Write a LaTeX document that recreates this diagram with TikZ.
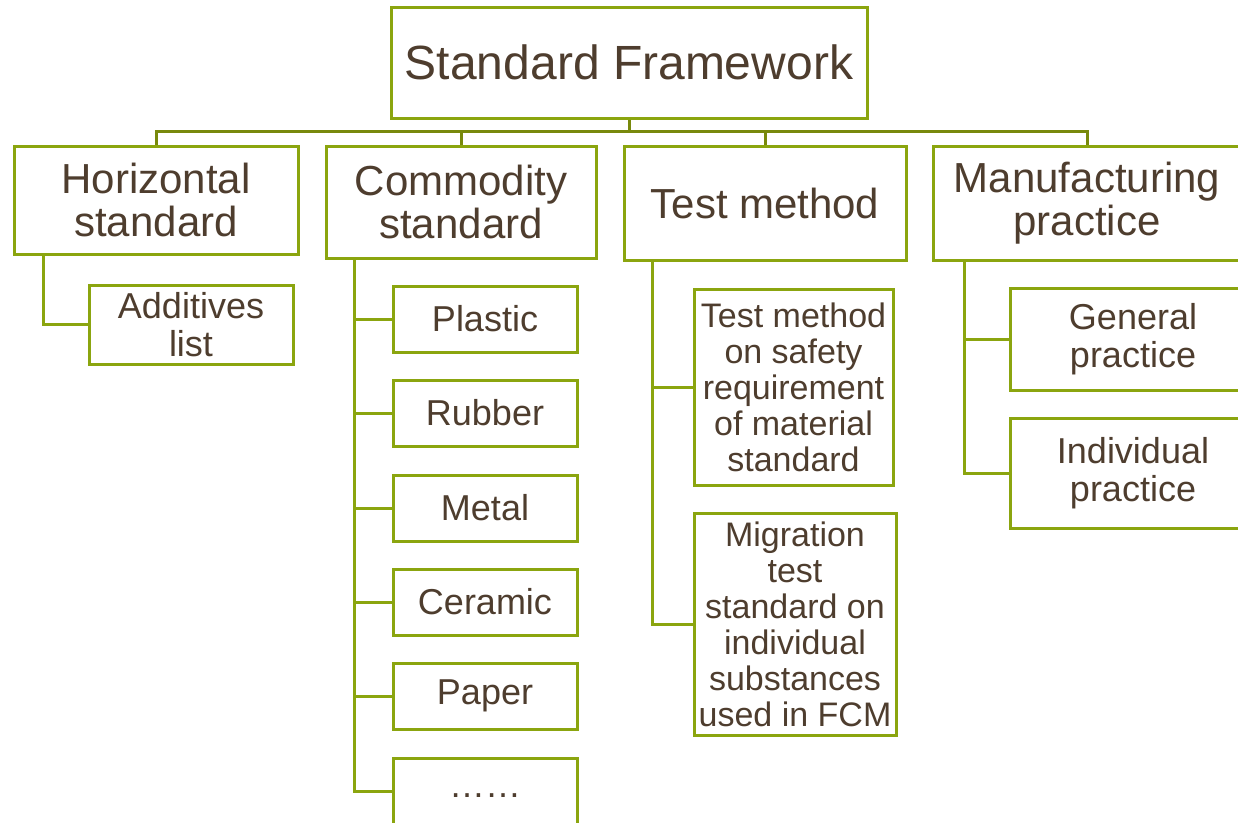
\documentclass[tikz,border=0pt]{standalone}
\usepackage{fontspec}
\setmainfont{Liberation Sans}
\definecolor{boxgreen}{HTML}{8BA50F}
\definecolor{busgreen}{HTML}{78890C}
\definecolor{txt}{HTML}{4E3D2E}
\begin{document}
\begin{tikzpicture}[x=1pt,y=-1pt,
  box/.style={draw=boxgreen, line width=3pt, fill=white, inner sep=0pt, align=center, text=txt},
  big/.style={font=\fontsize{48}{50}\selectfont},
  mid/.style={font=\fontsize{42}{43}\selectfont},
  sml/.style={font=\fontsize{36}{38}\selectfont},
  tiny/.style={font=\fontsize{34}{36}\selectfont},
  busline/.style={draw=busgreen, line width=3pt},
  link/.style={draw=boxgreen, line width=3pt}]
\clip (0,0) rectangle (1238,822);
\fill[white] (0,0) rectangle (1238,822);
\coordinate (bus) at (629,131);
\coordinate (hsp) at (43,254);
\coordinate (csp) at (354,258);
\coordinate (tsp) at (652,260);
\coordinate (msp) at (964,260);
% nodes
\node[box,big,minimum width=476pt,minimum height=111pt] (root) at (629,62.5) {Standard Framework};
\node[box,mid,minimum width=284pt,minimum height=108pt] (hs) at (156,200) {Horizontal\\standard};
\node[box,mid,minimum width=270pt,minimum height=112pt] (cs) at (461,202) {Commodity\\standard};
\node[box,mid,minimum width=282pt,minimum height=114pt] (tm) at (765,203) {Test method};
\node[box,mid,minimum width=308pt,minimum height=114pt] (ms) at (1087,203) {Manufacturing\\practice};
\node[box,sml,minimum width=204pt,minimum height=79pt] (add) at (191,324.5) {Additives\\list};
\node[box,sml,minimum width=184pt,minimum height=66pt] (c1) at (485,319) {Plastic};
\node[box,sml,minimum width=184pt,minimum height=66pt] (c2) at (485,413) {Rubber};
\node[box,sml,minimum width=184pt,minimum height=66pt] (c3) at (485,508) {Metal};
\node[box,sml,minimum width=184pt,minimum height=66pt] (c4) at (485,602) {Ceramic};
\node[box,sml,minimum width=184pt,minimum height=66pt] (c5) at (485,696) {Paper};
\node[box,sml,minimum width=184pt,minimum height=66pt] (c6) at (485,791) {\raisebox{-12pt}{……}};
\node[box,tiny,minimum width=199pt,minimum height=196pt] (t1) at (793.5,387) {Test method\\on safety\\requirement\\of material\\standard};
\node[box,tiny,minimum width=202pt,minimum height=222pt] (t2) at (795,624) {Migration\\test\\standard on\\individual\\substances\\used in FCM};
\node[box,sml,minimum width=246pt,minimum height=102pt] (g1) at (1133,339) {General\\practice};
\node[box,sml,minimum width=246pt,minimum height=110pt] (g2) at (1133,473) {Individual\\practice};
% bus
\path[busline] (root.south) -- (bus);
\path[busline] (bus) -| (hs.north);
\path[busline] (bus) -| (cs.north);
\path[busline] (bus) -| (tm.north);
\path[busline] (bus) -| (ms.north);
% level 2
\path[link] (hsp) |- (add.west);
\path[link] (csp) |- (c1.west);
\path[link] (csp) |- (c2.west);
\path[link] (csp) |- (c3.west);
\path[link] (csp) |- (c4.west);
\path[link] (csp) |- (c5.west);
\path[link] (csp) |- (c6.west);
\path[link] (tsp) |- (t1.west);
\path[link] (tsp) |- (t2.west);
\path[link] (msp) |- (g1.west);
\path[link] (msp) |- (g2.west);
\end{tikzpicture}
\end{document}
